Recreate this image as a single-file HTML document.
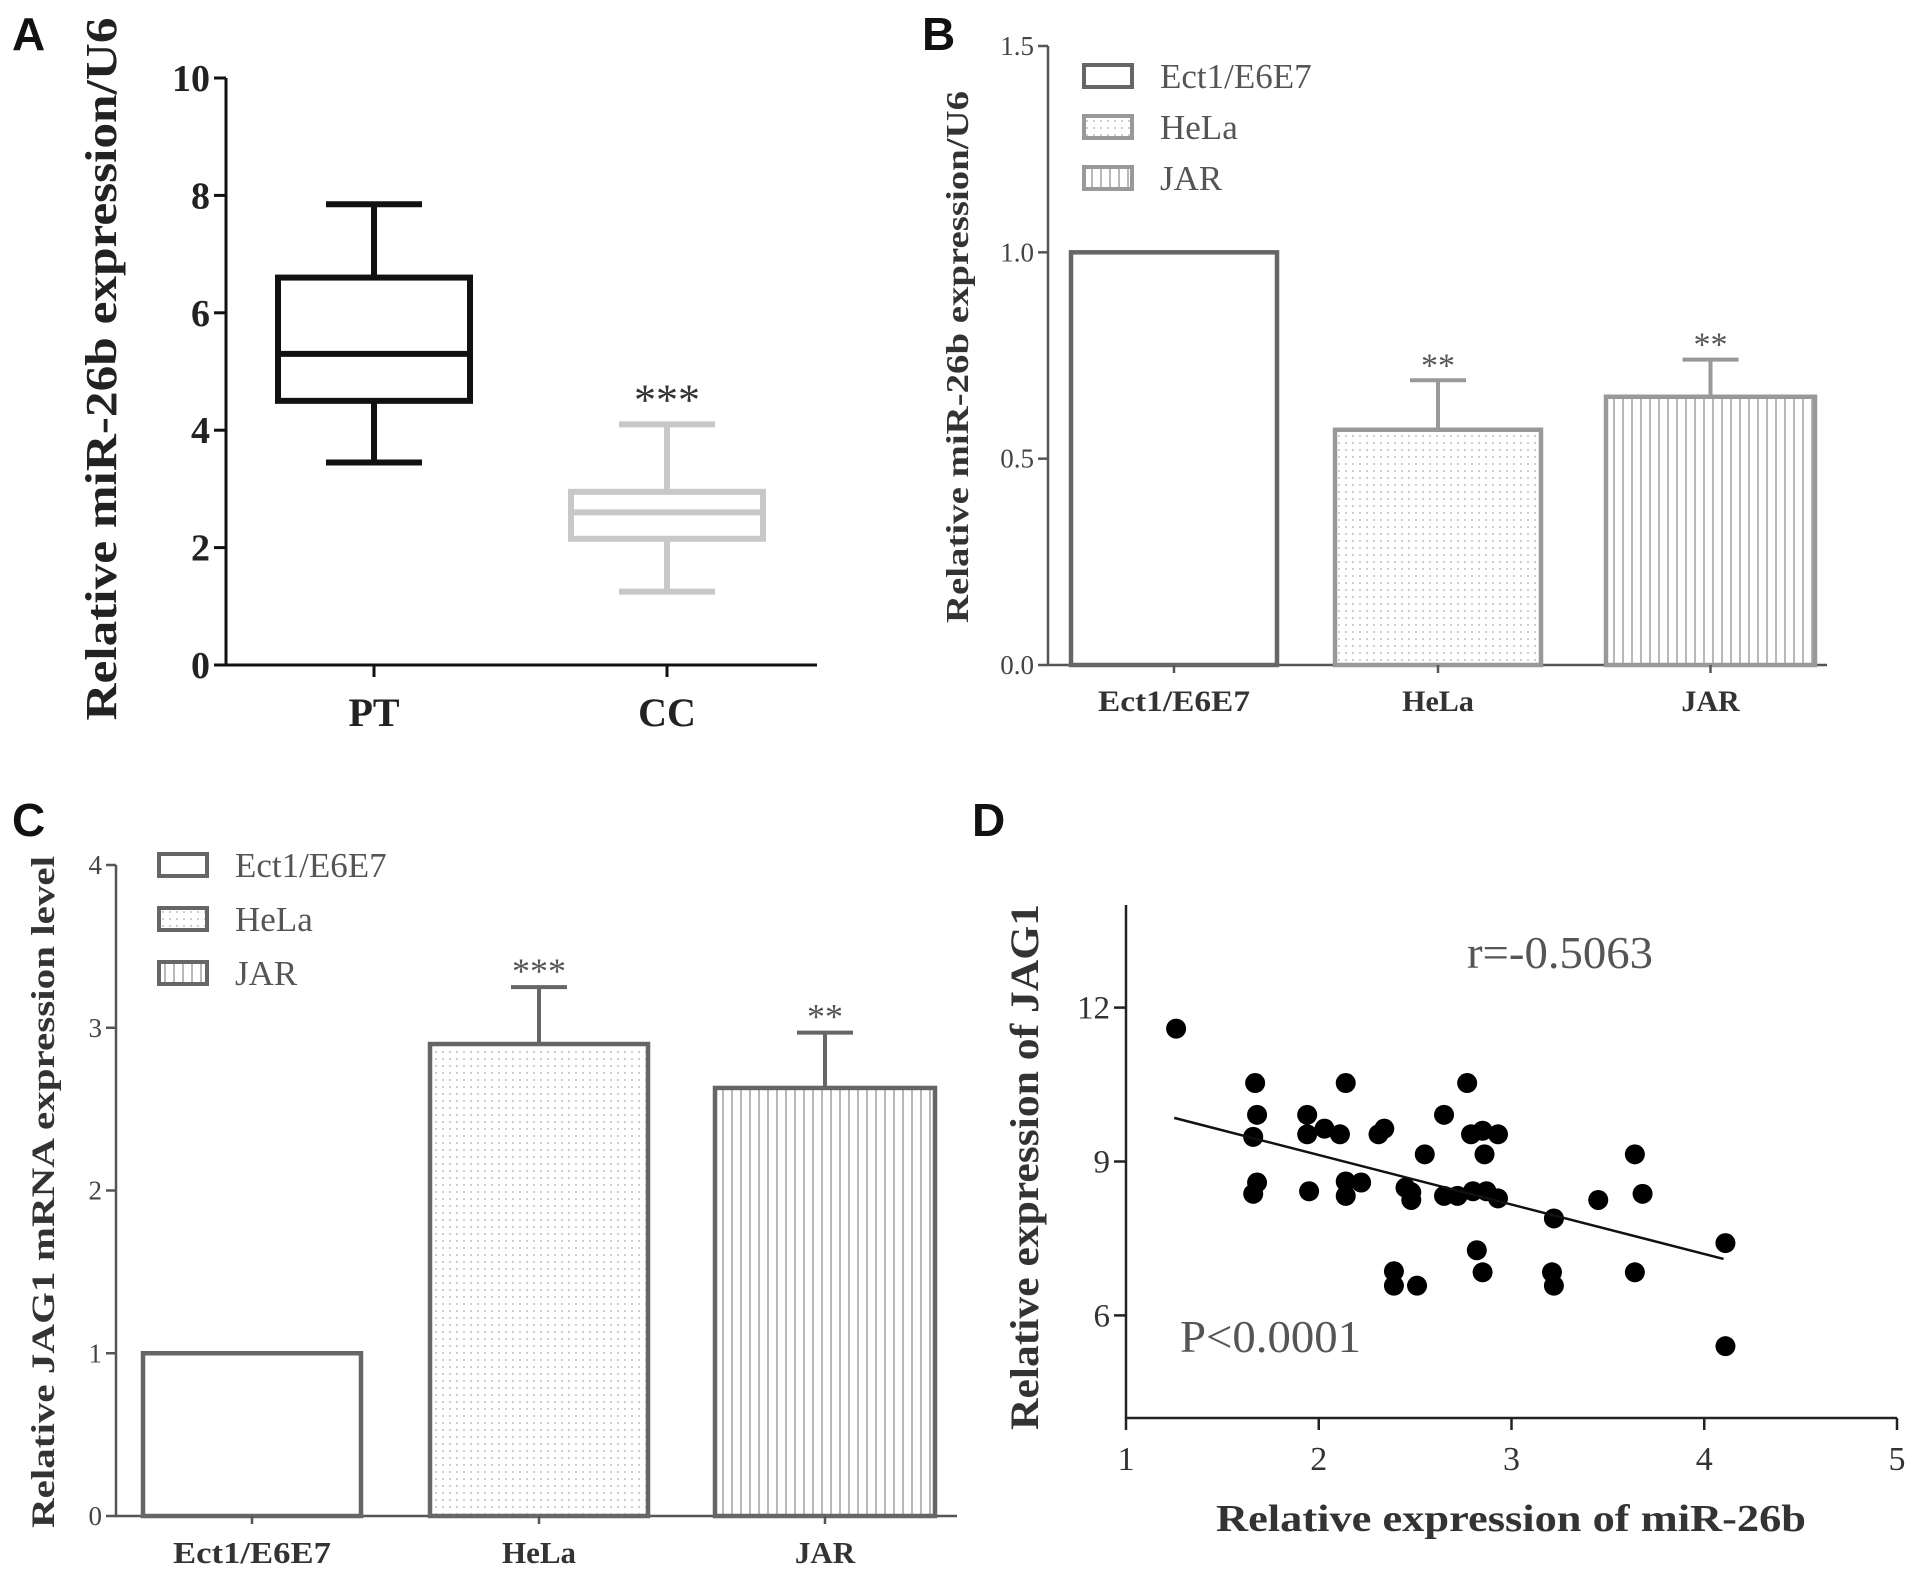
<!DOCTYPE html>
<html><head><meta charset="utf-8"><style>
html,body{margin:0;padding:0;background:#fff}
svg{display:block;font-family:"Liberation Serif",serif}
.lbl{font-family:"Liberation Sans",sans-serif;font-size:46px;font-weight:bold;fill:#111}
</style></head><body>
<svg id="fig" width="1913" height="1574" viewBox="0 0 1913 1574" xmlns="http://www.w3.org/2000/svg">
<defs>
<pattern id="dots" width="7" height="7" patternUnits="userSpaceOnUse"><circle cx="2" cy="2" r="0.9" fill="#aaa"/></pattern>
<pattern id="vlines" width="9" height="10" patternUnits="userSpaceOnUse"><line x1="3" y1="0" x2="3" y2="10" stroke="#999" stroke-width="1.4"/></pattern>
</defs>
<text class="lbl" x="12" y="50">A</text>
<text class="lbl" x="922" y="50">B</text>
<text class="lbl" x="12" y="836">C</text>
<text class="lbl" x="972" y="836">D</text>
<g id="A"></g>
<g id="B"></g>
<g id="C"></g>
<g id="D"></g>
</svg>
<script>
// Panel A data
const aCategories = ["PT","CC"];
const aWhiskerHigh = [7.85, 4.1];
const aQ3 = [6.6, 2.95];
const aMedian = [5.3, 2.6];
const aQ1 = [4.5, 2.15];
const aWhiskerLow = [3.45, 1.25];
const aTicks = [0,2,4,6,8,10];
// Panel B data
const bCategories = ["Ect1/E6E7","HeLa","JAR"];
const bValues = [1.0, 0.57, 0.65];
const bErrors = [0, 0.12, 0.09];
const bStars = ["", "**", "**"];
const bTicks = ["0.0","0.5","1.0","1.5"];
// Panel C data
const cCategories = ["Ect1/E6E7","HeLa","JAR"];
const cValues = [1.0, 2.9, 2.63];
const cErrors = [0, 0.35, 0.34];
const cStars = ["", "***", "**"];
const cTicks = [0,1,2,3,4];
// Panel D data
const dX = [1.26,1.67,1.68,1.66,1.68,1.66,1.94,1.94,2.03,2.11,1.95,2.14,2.14,2.14,2.22,2.31,2.34,2.55,2.45,2.48,2.48,2.39,2.39,2.51,2.65,2.65,2.72,2.77,2.79,2.80,2.82,2.85,2.86,2.87,2.93,2.85,2.93,3.22,3.21,3.22,3.45,3.64,3.68,3.64,4.11,4.11];
const dY = [11.59,10.53,9.91,9.48,8.59,8.37,9.91,9.53,9.64,9.53,8.42,10.53,8.61,8.33,8.59,9.53,9.64,9.14,8.49,8.40,8.25,6.86,6.58,6.58,9.91,8.33,8.33,10.53,9.53,8.42,7.27,9.60,9.14,8.42,9.53,6.84,8.28,7.89,6.84,6.58,8.25,9.14,8.37,6.84,7.41,5.40];
const dFitX = [1.25, 4.1];
const dFitY = [9.85, 7.1];
const dXTicks = [1,2,3,4,5];
const dYTicks = [6,9,12];

const NS="http://www.w3.org/2000/svg";
function mk(parent,tag,attrs,text){const e=document.createElementNS(NS,tag);for(const k in attrs)e.setAttribute(k,attrs[k]);if(text!==undefined)e.textContent=text;parent.appendChild(e);return e;}

// ---------- Panel A ----------
(function(){
const g=document.getElementById('A');
const x0=226,x1=817,yTop=78,yBot=665;
const y=v=>yBot-(v/10)*(yBot-yTop);
const xs=[374,667];
let e=mk(g,'path',{d:`M${x0} ${yTop}V${yBot}H${x1}`,fill:'none',stroke:'#111','stroke-width':3});

aTicks.forEach(t=>{
 e=mk(g,'line',{x1:x0-12,x2:x0,y1:y(t),y2:y(t),stroke:'#111','stroke-width':3});
 
 e=mk(g,'text',{x:x0-16,y:y(t)+13,'text-anchor':'end','font-size':38,'font-weight':'bold',fill:'#222'},t);
 
});
aCategories.forEach((c,i)=>{
 const cx=xs[i],col=i==0?'#111':'#c8c8c8',hw=96,cw=48;
 e=mk(g,'line',{x1:cx,x2:cx,y1:yBot,y2:yBot+12,stroke:'#111','stroke-width':3});
 
 e=mk(g,'text',{x:cx,y:726,'text-anchor':'middle','font-size':40,'font-weight':'bold',fill:'#222'},c);
 
 const bx=mk(g,'g',{stroke:col,'stroke-width':6,fill:'none'});
 
 mk(bx,'line',{x1:cx,x2:cx,y1:y(aWhiskerHigh[i]),y2:y(aQ3[i])});
 mk(bx,'line',{x1:cx,x2:cx,y1:y(aQ1[i]),y2:y(aWhiskerLow[i])});
 mk(bx,'line',{x1:cx-cw,x2:cx+cw,y1:y(aWhiskerHigh[i]),y2:y(aWhiskerHigh[i])});
 mk(bx,'line',{x1:cx-cw,x2:cx+cw,y1:y(aWhiskerLow[i]),y2:y(aWhiskerLow[i])});
 mk(bx,'rect',{x:cx-hw,y:y(aQ3[i]),width:2*hw,height:y(aQ1[i])-y(aQ3[i])});
 mk(bx,'line',{x1:cx-hw,x2:cx+hw,y1:y(aMedian[i]),y2:y(aMedian[i])});
});
e=mk(g,'text',{x:xs[1],y:y(aWhiskerHigh[1])-10,'text-anchor':'middle','font-size':44,fill:'#333'},'***');

e=mk(g,'text',{transform:`translate(116 369) rotate(-90)`,'text-anchor':'middle','font-size':44,'font-weight':'bold',fill:'#222',textLength:703,lengthAdjust:'spacingAndGlyphs'},'Relative miR-26b expression/U6');

})();

// ---------- Bar panels ----------
function barPanel(id,cfg){
const g=document.getElementById(id);
const {x0,x1,yTop,yBot,max,ticks,tickVals,cats,vals,errs,stars,bars,strokes,p}=cfg;
const y=v=>yBot-(v/max)*(yBot-yTop);
let e=mk(g,'path',{d:`M${x0} ${yTop}V${yBot}H${x1}`,fill:'none',stroke:'#555','stroke-width':2.5});

ticks.forEach((t,i)=>{const v=tickVals[i];
 e=mk(g,'line',{x1:x0-10,x2:x0,y1:y(v),y2:y(v),stroke:'#555','stroke-width':2.5});
 
 e=mk(g,'text',{x:x0-14,y:y(v)+9,'text-anchor':'end','font-size':cfg.tf,fill:'#444'},t);
 
});
const fills=['#fff','url(#dots)','url(#vlines)'];
cats.forEach((c,i)=>{
 const [bl,br]=bars[i],cx=(bl+br)/2;
 if(errs[i]>0){
  e=mk(g,'path',{d:`M${cx} ${y(vals[i])}V${y(vals[i]+errs[i])}M${cx-28} ${y(vals[i]+errs[i])}H${cx+28}`,stroke:strokes[i],'stroke-width':4,fill:'none'});
  
 }
 e=mk(g,'rect',{x:bl,y:y(vals[i]),width:br-bl,height:yBot-y(vals[i]),fill:fills[i],stroke:strokes[i],'stroke-width':4.5});
 
 if(stars[i]){e=mk(g,'text',{x:cx,y:y(vals[i]+errs[i])-4,'text-anchor':'middle','font-size':cfg.sf,fill:'#555'},stars[i]);
  }
 e=mk(g,'line',{x1:cx,x2:cx,y1:yBot,y2:yBot+8,stroke:'#555','stroke-width':2.5});
 
 const xl={x:cx,y:cfg.xly,'text-anchor':'middle','font-size':cfg.xf,'font-weight':'bold',fill:'#333'};
 if(i==0){xl.textLength=cfg.xlw;xl.lengthAdjust='spacingAndGlyphs';}
 e=mk(g,'text',xl,c);
 
 // legend
 const ly=cfg.legY[i];
 e=mk(g,'rect',{x:cfg.legX,y:ly-11,width:48,height:22,fill:fills[i],stroke:strokes[i],'stroke-width':4});
 
 e=mk(g,'text',{x:cfg.legX+76,y:ly+12,'font-size':35,fill:'#555'},c);
 
});
e=mk(g,'text',{transform:`translate(${cfg.titleX} ${cfg.titleY}) rotate(-90)`,'text-anchor':'middle','font-size':cfg.ttf,'font-weight':'bold',fill:'#333',textLength:cfg.tl,lengthAdjust:'spacingAndGlyphs'},cfg.title);

}
barPanel('B',{p:'b',x0:1048,x1:1827,yTop:46,yBot:665,max:1.5,ticks:bTicks,tickVals:bTicks.map(Number),cats:bCategories,vals:bValues,errs:bErrors,stars:bStars,
 bars:[[1071,1277],[1335,1541],[1606,1815]],strokes:['#666','#999','#999'],tf:27,sf:34,xf:30,xlw:152,xly:711,legX:1084,legY:[76,127,178],
 titleX:968,titleY:357,ttf:32,tl:532,title:'Relative miR-26b expression/U6'});
barPanel('C',{p:'c',x0:116,x1:957,yTop:865,yBot:1516,max:4,ticks:cTicks.map(String),tickVals:cTicks,cats:cCategories,vals:cValues,errs:cErrors,stars:cStars,
 bars:[[143,361],[430,648],[715,935]],strokes:['#666','#666','#666'],tf:27,sf:36,xf:31,xlw:158,xly:1563,legX:159,legY:[865,919,973],
 titleX:54,titleY:1192,ttf:33,tl:672,title:'Relative JAG1 mRNA expression level'});

// ---------- Panel D ----------
(function(){
const g=document.getElementById('D');
const X0=1126,X1=1897,Ytop=905,Ybot=1418;
const x=v=>X0+(v-1)/4*(X1-X0);
const y=v=>Ybot-(v-4)/10*(Ybot-Ytop);
let e=mk(g,'path',{d:`M${X0} ${Ytop}V${Ybot}H${X1}`,fill:'none',stroke:'#222','stroke-width':2.5});

dXTicks.forEach(t=>{
 e=mk(g,'line',{x1:x(t),x2:x(t),y1:Ybot,y2:Ybot+12,stroke:'#222','stroke-width':2.5});
 
 e=mk(g,'text',{x:x(t),y:Ybot+52,'text-anchor':'middle','font-size':34,fill:'#333'},t);
 
});
dYTicks.forEach(t=>{
 e=mk(g,'line',{x1:X0-12,x2:X0,y1:y(t),y2:y(t),stroke:'#222','stroke-width':2.5});
 
 e=mk(g,'text',{x:X0-16,y:y(t)+11,'text-anchor':'end','font-size':33,fill:'#333'},t);
 
});
dX.forEach((v,i)=>{
 e=mk(g,'circle',{cx:x(v),cy:y(dY[i]),r:10,fill:'#000'});
 
});
e=mk(g,'line',{x1:x(dFitX[0]),y1:y(dFitY[0]),x2:x(dFitX[1]),y2:y(dFitY[1]),stroke:'#111','stroke-width':2.5});

e=mk(g,'text',{x:1467,y:968,'font-size':46,fill:'#555',textLength:186,lengthAdjust:'spacingAndGlyphs'},'r=-0.5063');

e=mk(g,'text',{x:1180,y:1352,'font-size':46,fill:'#555',textLength:181,lengthAdjust:'spacingAndGlyphs'},'P<0.0001');

e=mk(g,'text',{x:1511,y:1531,'text-anchor':'middle','font-size':38,'font-weight':'bold',fill:'#333',textLength:590,lengthAdjust:'spacingAndGlyphs'},'Relative expression of miR-26b');

e=mk(g,'text',{transform:'translate(1038 1167) rotate(-90)','text-anchor':'middle','font-size':40,'font-weight':'bold',fill:'#333',textLength:526,lengthAdjust:'spacingAndGlyphs'},'Relative expression of JAG1');

})();
</script>
</body></html>
